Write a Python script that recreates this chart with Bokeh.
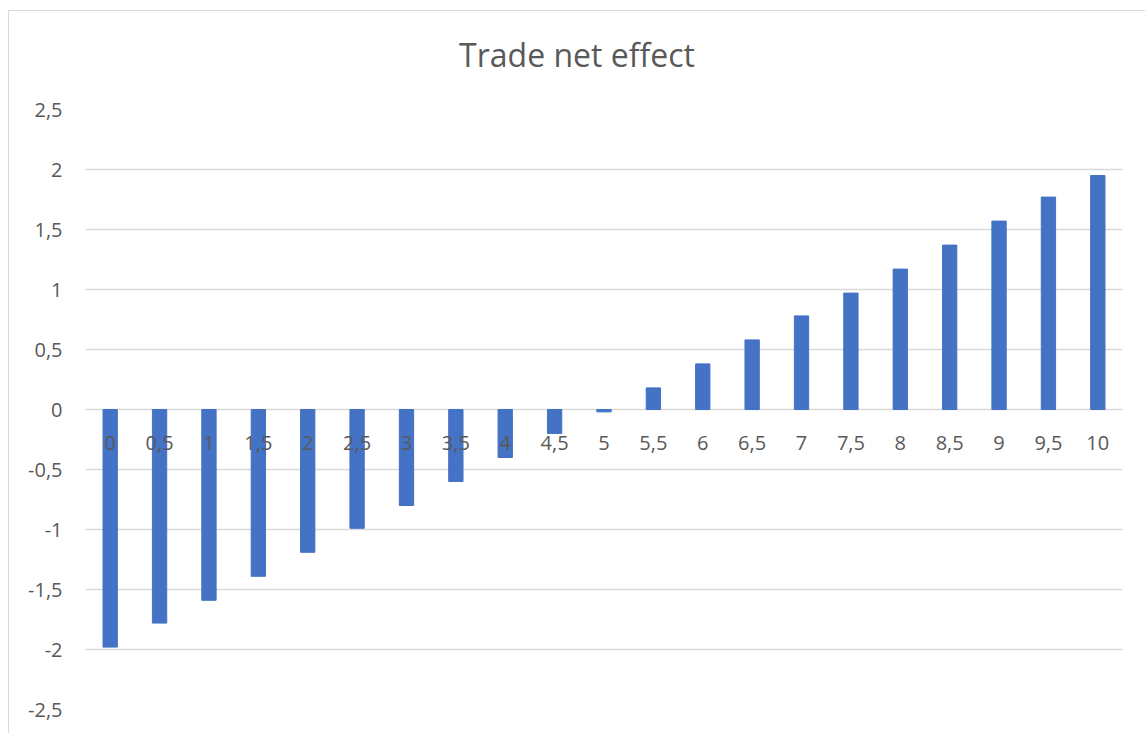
from bokeh.plotting import figure
from bokeh.models import FixedTicker, ColumnDataSource, Div
from bokeh.layouts import column
from bokeh.core.properties import value
from bokeh.embed import file_html
from bokeh.resources import INLINE

# ---- data ----
categories = ["0", "0,5", "1", "1,5", "2", "2,5", "3", "3,5", "4", "4,5", "5",
              "5,5", "6", "6,5", "7", "7,5", "8", "8,5", "9", "9,5", "10"]
net_effect = [-1.98, -1.78, -1.59, -1.39, -1.19, -0.99, -0.80, -0.60, -0.40, -0.20, -0.02,
              0.18, 0.38, 0.58, 0.78, 0.97, 1.17, 1.37, 1.57, 1.77, 1.95]
y_ticks = [-2.5, -2.0, -1.5, -1.0, -0.5, 0.0, 0.5, 1.0, 1.5, 2.0, 2.5]
y_tick_labels = ["-2,5", "-2", "-1,5", "-1", "-0,5", "0", "0,5", "1", "1,5", "2", "2,5"]
title_text = "Trade net effect"

FONT = "Open Sans"
TXT = "#595959"

src = ColumnDataSource(dict(cat=categories, val=net_effect, zero=[0] * len(categories)))

title_div = Div(
    text=('<div style="width:1128px;height:40px;line-height:40px;padding-top:24px;padding-left:8px;'
          'text-align:center;font-family:\'Open Sans\';font-size:32px;color:%s;margin:0;">%s</div>'
          % (TXT, title_text)),
    width=1136, height=64, margin=0)

p = figure(width=1136, height=658, x_range=categories, y_range=(-2.5, 2.5),
           output_backend="svg", toolbar_location=None, margin=0,
           min_border_left=76, min_border_right=23, min_border_top=34, min_border_bottom=24)

p.outline_line_color = None
p.background_fill_color = "white"
p.border_fill_color = "white"

p.xaxis.visible = False
p.xgrid.grid_line_color = None
p.ygrid.grid_line_color = "#d9d9d9"
p.ygrid.grid_line_width = 1.5

yax = p.yaxis[0]
yax.ticker = FixedTicker(ticks=y_ticks)
yax.major_label_overrides = {t: s for t, s in zip(y_ticks, y_tick_labels)}
yax.axis_line_color = None
yax.major_tick_line_color = None
yax.minor_tick_line_color = None
yax.major_tick_out = 0
yax.major_tick_in = 0
yax.major_label_standoff = 23
yax.major_label_text_font = FONT
yax.major_label_text_font_size = "20px"
yax.major_label_text_color = TXT

p.vbar(x="cat", top="val", bottom=0, width=0.29, source=src,
       fill_color="#4472C4", line_color="#4472C4", line_width=1)

p.text(x="cat", y="zero", text="cat", source=src, y_offset=33,
       text_align="center", text_baseline="middle",
       text_font=value(FONT), text_font_size="20px", text_color=TXT)

layout = column(title_div, p, spacing=0)
layout.styles = {"margin-left": "8px", "margin-top": "10px",
                 "border-top": "1px solid #d9d9d9", "border-left": "1px solid #d9d9d9"}

open("out.html", "w").write(file_html(layout, INLINE))
